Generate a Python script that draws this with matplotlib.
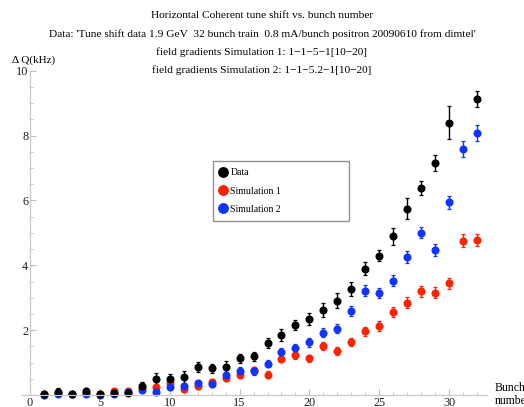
import matplotlib
matplotlib.use("Agg")
import matplotlib.pyplot as plt
from matplotlib.lines import Line2D
from matplotlib.ticker import MultipleLocator

plt.rcParams['font.family'] = ['Liberation Serif', 'DejaVu Serif']

# bunch numbers
bunch = list(range(1, 33))

# measured data (no point at bunch 31)
data_x = [b for b in bunch if b != 31]
data_y = [0.02, 0.10, 0.03, 0.11, 0.03, 0.05, 0.07, 0.27, 0.49, 0.49,
          0.55, 0.86, 0.82, 0.88, 1.13, 1.19, 1.60, 1.86, 2.17, 2.34,
          2.62, 2.91, 3.27, 3.90, 4.30, 4.89, 5.74, 6.39, 7.15, 8.40,
          9.13]
data_err = [0.10, 0.12, 0.06, 0.12, 0.08, 0.06, 0.08, 0.12, 0.20, 0.15,
            0.19, 0.15, 0.13, 0.17, 0.15, 0.14, 0.16, 0.18, 0.15, 0.18,
            0.22, 0.23, 0.23, 0.19, 0.18, 0.27, 0.32, 0.22, 0.25, 0.50,
            0.25]

# simulation 1
sim1_y = [0.02, 0.05, 0.03, 0.05, 0.02, 0.12, 0.12, 0.22, 0.26, 0.37,
          0.18, 0.27, 0.39, 0.53, 0.62, 0.76, 0.63, 1.12, 1.23, 1.13,
          1.51, 1.37, 1.63, 1.96, 2.13, 2.55, 2.85, 3.20, 3.16, 3.44,
          4.76, 4.79]
sim1_err = [0.05, 0.05, 0.05, 0.05, 0.05, 0.06, 0.06, 0.07, 0.08, 0.08,
            0.08, 0.08, 0.09, 0.09, 0.09, 0.10, 0.10, 0.11, 0.11, 0.11,
            0.12, 0.12, 0.13, 0.14, 0.15, 0.15, 0.16, 0.17, 0.17, 0.18,
            0.19, 0.19]

# simulation 2
sim2_y = [0.01, 0.03, 0.02, 0.02, 0.00, 0.04, 0.08, 0.15, 0.08, 0.24,
          0.27, 0.36, 0.33, 0.61, 0.75, 0.73, 0.97, 1.34, 1.46, 1.62,
          1.92, 2.04, 2.59, 3.22, 3.15, 3.53, 4.25, 5.01, 4.48, 5.94,
          7.59, 8.08]
sim2_err = [0.05, 0.05, 0.05, 0.05, 0.05, 0.06, 0.06, 0.07, 0.07, 0.08,
            0.08, 0.09, 0.09, 0.10, 0.10, 0.10, 0.11, 0.12, 0.12, 0.13,
            0.14, 0.14, 0.15, 0.17, 0.16, 0.17, 0.18, 0.18, 0.18, 0.21,
            0.25, 0.24]

title_lines = [
    "Horizontal Coherent tune shift vs. bunch number",
    "Data: 'Tune shift data 1.9 GeV  32 bunch train  0.8 mA/bunch positron 20090610 from dimtel'",
    "field gradients Simulation 1: 1\u22121\u22125\u22121[10\u221220]",
    "field gradients Simulation 2: 1\u22121\u22125.2\u22121[10\u221220]",
]

black = "#000000"
red = "#ff2200"
blue = "#1133ff"

fig = plt.figure(figsize=(5.24, 4.07), dpi=100)
ax = fig.add_axes([0.0412, 0.0174, 0.888, 0.809])

for xs, ys, es, c in [(bunch, sim1_y, sim1_err, red),
                      (bunch, sim2_y, sim2_err, blue),
                      (data_x, data_y, data_err, black)]:
    ax.errorbar(xs, ys, yerr=es, fmt='o', color=c, ms=4.8, mec=c,
                elinewidth=1.0, capsize=1.6, capthick=0.9, clip_on=False)

ax.set_xlim(-0.6, 32.7)
ax.set_ylim(-0.15, 10)

for s in ['top', 'right']:
    ax.spines[s].set_visible(False)
ax.spines['left'].set_position(('data', 0))
ax.spines['bottom'].set_position(('data', 0))
ax.spines['left'].set_bounds(0, 10)
for s in ['left', 'bottom']:
    ax.spines[s].set_color('#c8c8c8')
    ax.spines[s].set_linewidth(0.9)

ax.xaxis.set_major_locator(MultipleLocator(5))
ax.xaxis.set_minor_locator(MultipleLocator(1))
ax.yaxis.set_minor_locator(MultipleLocator(0.5))
ax.set_yticks([2, 4, 6, 8, 10])
ax.tick_params(which='both', direction='in', color='#c0c0c0', labelsize=8.8,
               labelcolor='#222222')
ax.tick_params(which='major', length=4, width=0.8, pad=1.2)
ax.tick_params(which='minor', length=2, width=0.6)

# four-line title
for i, line in enumerate(title_lines):
    fig.text(0.5, 1 - (16 + 18 * i) / 407, line, ha='center', va='center',
             fontsize=8.2)

fig.text(12 / 524, 1 - 60 / 407, "\u0394 Q(kHz)", ha='left', va='center',
         fontsize=8)
fig.text(495 / 524, 1 - 388 / 407, "Bunch", ha='left', va='center', fontsize=8.5)
fig.text(495 / 524, 1 - 401 / 407, "number", ha='left', va='center', fontsize=8.5)

handles = [Line2D([], [], marker='o', ls='none', color=c, ms=6.8)
           for c in (black, red, blue)]
leg = fig.legend(handles, ["Data", "Simulation 1", "Simulation 2"],
                 loc='upper left',
                 bbox_to_anchor=(213 / 524, 1 - 161 / 407, 136 / 524, 0.0),
                 bbox_transform=fig.transFigure, mode='expand', fontsize=7,
                 handlelength=0.6, handletextpad=0.45, borderpad=0.75,
                 borderaxespad=0.0, labelspacing=0.95, frameon=True,
                 fancybox=False)
leg.get_frame().set_edgecolor('#777777')
leg.get_frame().set_linewidth(1.0)

fig.savefig("out.png", dpi=100)
